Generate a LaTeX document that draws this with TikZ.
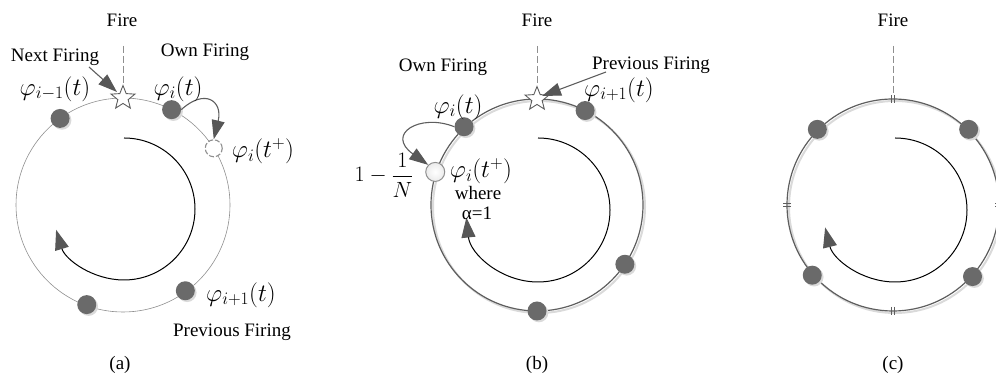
\RequirePackage{fix-cm}
\documentclass[tikz,border=0pt]{standalone}
\usepackage{fontspec}
\setmainfont{Liberation Serif}
\usetikzlibrary{arrows.meta,shapes.geometric,calc}
\definecolor{dotgray}{HTML}{6A6A6A}
\definecolor{linegray}{HTML}{5E5E5E}
\definecolor{shadowgray}{HTML}{DADADA}
\definecolor{thingray}{HTML}{8F8F8F}
\definecolor{headgray}{HTML}{575757}
\begin{document}
\begin{tikzpicture}[x=1pt,y=1pt,
  lbl/.style={font=\fontsize{19}{22}\selectfont, inner sep=0pt},
  mth/.style={font=\fontsize{25}{29}\selectfont, inner sep=0pt},
  mthsmall/.style={font=\fontsize{22}{26}\selectfont, inner sep=0pt},
  dotnode/.style={circle, fill=dotgray, minimum size=19pt, inner sep=0pt,
    preaction={fill=shadowgray, transform canvas={xshift=1.8pt,yshift=-1.8pt}}},
  opendash/.style={circle, draw=thingray, dashed, dash pattern=on 5pt off 2pt, line width=1.1pt, fill=white, minimum size=17pt, inner sep=0pt},
  openb/.style={circle, draw=thingray, line width=1pt, inner color=white, outer color=black!8, minimum size=19pt, inner sep=0pt},
  starnode/.style={star, star points=5, star point ratio=2.3, draw=linegray, line width=0.9pt, fill=white, minimum size=25pt, inner sep=0pt},
  thinring/.style={draw=thingray, line width=0.6pt},
  ring/.style={draw=linegray, line width=1.2pt, preaction={draw=shadowgray, line width=2pt, transform canvas={xshift=2pt,yshift=-2pt}}},
  dashline/.style={draw=thingray, dashed, dash pattern=on 7pt off 3pt, line width=0.7pt},
  innerarc/.style={draw=black, line width=1pt, -{Triangle[length=20pt,width=14pt,fill=headgray,color=headgray]}},
  bigarrow/.style={draw=linegray, line width=1.1pt, -{Triangle[length=19pt,width=13pt,fill=headgray,color=headgray]}},
  tickline/.style={draw=linegray, line width=0.9pt}
]
\clip (0,0) rectangle (996,379);
\useasboundingbox (0,0) rectangle (996,379);

% ================= Panel (a) =================
\coordinate (A) at (123,174);
\coordinate (Ai) at (124,170);
\draw[thinring] (A) circle (107);
\node[starnode] (astar) at ($(A)+(90:107)$) {};
\coordinate (afiretop) at (123,333);
\draw[dashline] (afiretop) -- (astar.north);
\node[lbl] (afire) at (122,359) {Fire};
\node[dotnode] (a1) at ($(A)+(126:107)$) {};
\node[dotnode] (a2) at ($(A)+(63:107)$) {};
\node[opendash] (a3) at ($(A)+(32:107)$) {};
\node[dotnode] (a4) at ($(A)+(-54:106)$) {};
\node[dotnode] (a5) at ($(A)+(-110:106)$) {};
\draw[innerarc] (Ai) ++(90:71) arc[start angle=90, end angle=-163, radius=71];
\coordinate (anextstart) at (89,312);
\coordinate (anexttip) at (117,287);
\draw[bigarrow] (anextstart) -- (anexttip);
\draw[bigarrow] (a2.east) .. controls (205,291) and (223,278) .. (a3.north);
\node[lbl] (anext) at (55,322) {Next Firing};
\node[lbl] (aown) at (205,327) {Own Firing};
\node[mth] (lam1) at (55,290) {$\varphi_{i-1}(t)$};
\node[mth] (lai) at (178,290) {$\varphi_{i}(t)$};
\node[mth] (laip) at (263,228) {$\varphi_{i}(t^{+})$};
\node[mth] (lap1) at (241,84) {$\varphi_{i+1}(t)$};
\node[lbl] (aprev) at (232,47) {Previous Firing};
\node[lbl] (acap) at (120,14) {(a)};

% ================= Panel (b) =================
\coordinate (B) at (537,174);
\coordinate (Bi) at (538,169);
\draw[ring] (B) circle (106);
\node[starnode] (bstar) at ($(B)+(90:106)$) {};
\coordinate (bfiretop) at (537,333);
\draw[dashline] (bfiretop) -- (bstar.north);
\node[lbl] (bfire) at (537,359) {Fire};
\node[dotnode] (b1) at ($(B)+(133:107)$) {};
\node[dotnode] (b2) at ($(B)+(63:106)$) {};
\node[dotnode] (b3) at ($(B)+(-34:106)$) {};
\node[dotnode] (b4) at ($(B)+(-90:106)$) {};
\node[openb] (b5) at ($(B)+(162:107)$) {};
\draw[innerarc] (Bi) ++(90:72) arc[start angle=90, end angle=-174, radius=72];
\draw[bigarrow] (b1.west) .. controls (420,266) and (385,245) .. (b5.north west);
\coordinate (bprevstart) at (606,307);
\draw[bigarrow] (bprevstart) -- ($(bstar.center)+(5,3)$);
\node[lbl] (bown) at (443,312) {Own Firing};
\node[lbl] (bprev) at (651,314) {Previous Firing};
\node[mth] (lbi) at (458,272) {$\varphi_{i}(t)$};
\node[mth] (lbp1) at (619,289) {$\varphi_{i+1}(t)$};
\node[mthsmall] (lbn) at (384,204) {$\displaystyle 1-\frac{1}{N}$};
\node[mth] (lbip) at (481,208) {$\varphi_{i}(t^{+})$};
\node[lbl] (bwhere) at (478,186) {where};
\node[lbl] (balpha) at (477,166) {α=1};
\node[lbl] (bcap) at (537,14) {(b)};

% ================= Panel (c) =================
\coordinate (C) at (893,174);
\coordinate (Ci) at (895,169);
\draw[ring] (C) circle (106);
\coordinate (cfiretop) at (893,333);
\coordinate (cfirebot) at (893,286);
\draw[dashline] (cfiretop) -- (cfirebot);
\node[lbl] (cfire) at (893,359) {Fire};
\foreach \ang in {0,90,180,270}{
  \begin{scope}[shift={(893,174)}, rotate=\ang]
    \draw[tickline] (102,-1.7) -- (110,-1.7) (102,1.7) -- (110,1.7);
  \end{scope}}
\node[dotnode] (c1) at ($(C)+(135:107)$) {};
\node[dotnode] (c2) at ($(C)+(45:107)$) {};
\node[dotnode] (c3) at ($(C)+(-139:107)$) {};
\node[dotnode] (c4) at ($(C)+(-42:107)$) {};
\draw[innerarc] (Ci) ++(90:72) arc[start angle=90, end angle=-166, radius=72];
\node[lbl] (ccap) at (893,14) {(c)};
\end{tikzpicture}
\end{document}
